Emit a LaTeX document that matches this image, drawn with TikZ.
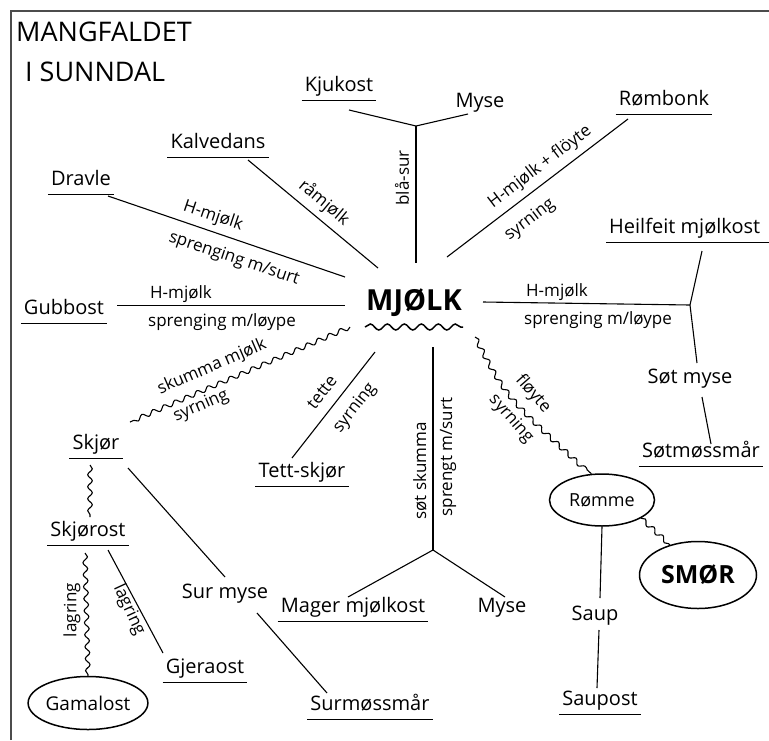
\documentclass[tikz,border=0pt]{standalone}
\usepackage{fontspec}
\setmainfont{Open Sans}
\usetikzlibrary{decorations.pathmorphing,shapes.geometric}
\begin{document}
\begin{tikzpicture}[x=1pt,y=-1pt,
  every node/.style={inner sep=0pt},
  lab/.style={font=\fontsize{20}{24}\selectfont, text height=14pt, text depth=4pt, inner xsep=3pt, inner ysep=5pt},
  elab/.style={font=\fontsize{17}{20}\selectfont, inner sep=0pt},
  ttl/.style={font=\fontsize{27}{32}\selectfont, anchor=west},
  con/.style={line width=1.1pt},
  ulline/.style={line width=1.3pt},
  wavy/.style={line width=1.1pt, decorate, decoration={snake, segment length=12pt, amplitude=2.3pt}},
  wavybig/.style={line width=1.5pt, decorate, decoration={snake, segment length=17pt, amplitude=3pt}},
  oval/.style={ellipse, draw, line width=1.5pt, inner sep=0pt},
]
\useasboundingbox (0,0) rectangle (769,740);
\fill[white] (0,0) rectangle (769,740);
\draw[gray!60!black, line width=1.2pt] (11,740) -- (11,11) -- (769,11);

% title
\node[ttl] (t1) at (16,32) {MANGFALDET};
\node[ttl] (t2) at (25,72) {I SUNNDAL};

% centre
\node[font=\fontsize{29}{34}\selectfont\bfseries] (mjolk) at (414,303) {MJØLK};
\draw[wavybig] ([shift={(-49,24)}]mjolk.center) -- ([shift={(49,24)}]mjolk.center);

% product nodes
\node[lab] (kju) at (339,86) {Kjukost};
\node[lab] (myse1) at (480,102) {Myse};
\node[lab] (kalv) at (218,143) {Kalvedans};
\node[lab] (drav) at (81,180) {Dravle};
\node[lab] (gubb) at (64,309) {Gubbost};
\node[lab] (romb) at (664,100) {Rømbonk};
\node[lab, anchor=west] (heil) at (606,228) {Heilfeit mjølkost};
\node[lab] (sotmyse) at (690,378) {Søt myse};
\node[lab] (sotm) at (701,452) {Søtmøssmår};
\node[oval, font=\fontsize{18}{22}\selectfont, minimum width=105pt, minimum height=52pt] (romme) at (602,500) {Rømme};
\node[lab] (saup) at (595,615) {Saup};
\node[lab] (saupost) at (600,700) {Saupost};
\node[oval, font=\fontsize{25}{30}\selectfont\bfseries, minimum width=117pt, minimum height=67pt] (smor) at (698,575) {SMØR};
\node[lab] (myse2) at (502,607) {Myse};
\node[lab] (mager) at (353,607) {Mager mjølkost};
\node[lab] (surmyse) at (225,593) {Sur myse};
\node[lab] (surm) at (370,705) {Surmøssmår};
\node[lab] (skjor) at (96,444) {Skjør};
\node[lab] (tett) at (302,472) {Tett-skjør};
\node[lab] (skjost) at (88,531) {Skjørost};
\node[lab] (gjer) at (205,668) {Gjeraost};
\node[oval, font=\fontsize{19}{22}\selectfont, minimum width=118pt, minimum height=53pt] (gama) at (88,703) {Gamalost};

\foreach \n in {kju,kalv,drav,gubb,romb,sotm,saupost,mager,surm,skjor,tett,skjost,gjer}
  \draw[ulline] (\n.south west) -- (\n.south east);
\draw[ulline] (heil.south west) -- ([xshift=18pt]heil.south east);

% junctions
\coordinate (j1) at (416,126);
\coordinate (j2) at (690,305);
\coordinate (j3) at (433,550);

% connectors
\draw[con] ([shift={(10,24)}]kju.center) -- (j1);
\draw[con] (j1) -- ([shift={(-12,12)}]myse1.center);
\draw[con] (j1) -- ([shift={(2,-40)}]mjolk.center);
\draw[con] ([shift={(30,17)}]kalv.center) -- ([shift={(-36,-35)}]mjolk.center);
\draw[con] ([shift={(27,16)}]drav.center) -- ([shift={(-69,-26)}]mjolk.center);
\draw[con] ([shift={(53,-3.5)}]gubb.center) -- ([shift={(-69,2.5)}]mjolk.center);
\draw[con] ([shift={(-36,19)}]romb.center) -- ([shift={(33,-46)}]mjolk.center);
\draw[con] ([shift={(69,-1)}]mjolk.center) -- (j2);
\draw[con] (j2) -- ([shift={(96,23)}]heil.west);
\draw[con] (j2) -- ([shift={(7,-15)}]sotmyse.center);
\draw[con] ([shift={(12,19)}]sotmyse.center) -- ([shift={(10,-8)}]sotm.center);
\draw[wavy] ([shift={(61,34)}]mjolk.center) .. controls (505,395) .. (romme.112);
\draw[con] (romme.south) -- ([shift={(5,-17)}]saup.center);
\draw[con] ([shift={(4,15)}]saup.center) -- ([shift={(-3,-12)}]saupost.center);
\draw[wavy] (romme.-25) -- (smor.133);
\draw[con] ([shift={(19,44)}]mjolk.center) -- (j3);
\draw[con] (j3) -- ([shift={(3,-10)}]myse2.center);
\draw[con] (j3) -- ([shift={(-5,-10)}]mager.center);
\draw[wavy] ([shift={(-64,24)}]mjolk.center) -- ([shift={(34,-22)}]skjor.center);
\draw[con] ([shift={(-39,49)}]mjolk.center) -- ([shift={(-10,-14)}]tett.center);
\draw[con] ([shift={(32,24)}]skjor.center) -- ([shift={(0,-16)}]surmyse.center);
\draw[con] ([shift={(32,20)}]surmyse.center) -- ([shift={(-43,-12)}]surm.center);
\draw[wavy] ([shift={(-6,21)}]skjor.center) -- ([shift={(2,-14)}]skjost.center);
\draw[wavy] ([shift={(-3,22)}]skjost.center) -- (gama.north);
\draw[con] ([shift={(20,19)}]skjost.center) -- ([shift={(-42,-15)}]gjer.center);

% edge labels
\node[elab] (l1) at (181,294) {H-mjølk};
\node[elab] (l2) at (222,322) {sprenging m/løype};
\node[elab, rotate=-18.6] (l3) at (213,216) {H-mjølk};
\node[elab, rotate=-18.6] (l4) at (234,259) {sprenging m/surt};
\node[elab, rotate=-39.7] (l5) at (324,203) {råmjølk};
\node[elab, rotate=90] (l6) at (402,178) {blå-sur};
\node[elab, rotate=37.3] (l7) at (540,167) {H-mjølk + flöyte};
\node[elab, rotate=37.3] (l8) at (530,220) {syrning};
\node[elab] (l9) at (557,292) {H-mjølk};
\node[elab] (l10) at (598,320) {sprenging m/løype};
\node[elab, rotate=23.4] (l11) at (212,367) {skumma mjølk};
\node[elab, rotate=23.4] (l12) at (201,406) {syrning};
\node[elab, rotate=52] (l13) at (322,392) {tette};
\node[elab, rotate=52] (l14) at (355,408) {syrning};
\node[elab, rotate=90] (l15) at (420,471) {søt skumma};
\node[elab, rotate=90] (l16) at (448,457) {sprengt m/surt};
\node[elab, rotate=-48.7] (l17) at (533,394) {fløyte};
\node[elab, rotate=-48.7] (l18) at (511,419) {syrning};
\node[elab, rotate=90] (l19) at (72,610) {lagring};
\node[elab, rotate=-65] (l20) at (129,610) {lagring};
\end{tikzpicture}
\end{document}
